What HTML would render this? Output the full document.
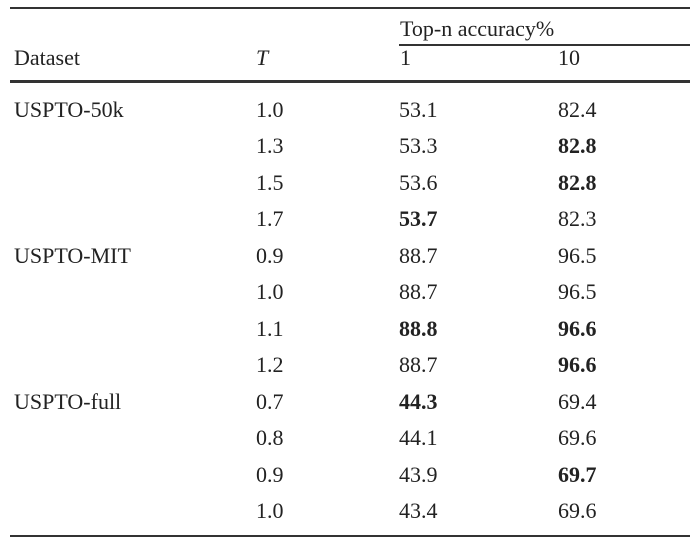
<!DOCTYPE html>
<html><head><meta charset="utf-8"><style>
body{margin:0;background:#fff;width:700px;height:546px;position:relative;overflow:hidden;font-family:"Liberation Serif",serif;color:#222;font-size:22px}
.t{position:absolute;white-space:nowrap;line-height:1}
.l{position:absolute;background:#333}
b{font-weight:bold}
</style></head><body>
<div class="l" style="left:10px;top:7px;width:680px;height:2px"></div>
<div class="l" style="left:399px;top:44px;width:291px;height:1.5px"></div>
<div class="l" style="left:10px;top:80px;width:680px;height:2.5px"></div>
<div class="l" style="left:10px;top:535px;width:680px;height:2px"></div>
<div class="t" style="left:400px;top:18px">Top-n accuracy%</div>
<div class="t" style="left:14px;top:47px">Dataset</div>
<div class="t" style="left:256px;top:47px;font-style:italic">T</div>
<div class="t" style="left:400px;top:47px">1</div>
<div class="t" style="left:558px;top:47px">10</div>
<div id="rows"></div>
<script>
const datasets=["USPTO-50k","","","","USPTO-MIT","","","","USPTO-full","","",""];
const temps=["1.0","1.3","1.5","1.7","0.9","1.0","1.1","1.2","0.7","0.8","0.9","1.0"];
const top1=["53.1","53.3","53.6","53.7","88.7","88.7","88.8","88.7","44.3","44.1","43.9","43.4"];
const top10=["82.4","82.8","82.8","82.3","96.5","96.5","96.6","96.6","69.4","69.6","69.7","69.6"];
const bold1=[0,0,0,1,0,0,1,0,1,0,0,0];
const bold10=[0,1,1,0,0,0,1,1,0,0,1,0];
const root=document.getElementById('rows');
function cell(txt,x,y,b,name){
  const d=document.createElement('div');
  d.className='t';
  d.style.left=x+'px';d.style.top=y+'px';
  if(b)d.style.fontWeight='bold';
  d.textContent=txt;
  
  
  root.appendChild(d);
}
for(let i=0;i<temps.length;i++){
  const y=99+i*36.45;
  if(datasets[i])cell(datasets[i],14,y,0,'dataset-label');
  cell(temps[i],256,y,0,'temperature-cell');
  cell(top1[i],399,y,bold1[i],'top1-cell');
  cell(top10[i],558,y,bold10[i],'top10-cell');
}
</script>
</body></html>
